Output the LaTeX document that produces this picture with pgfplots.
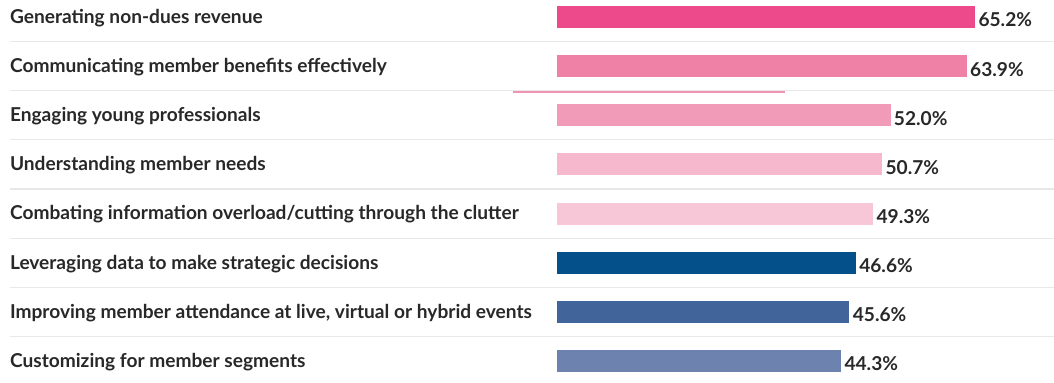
\documentclass[border=0pt]{standalone}
\usepackage{pgfplots}
\pgfplotsset{compat=1.18}
\usepackage{fontspec}
\setmainfont{Lato}
\definecolor{c1}{RGB}{236,74,139}
\definecolor{c2}{RGB}{239,128,166}
\definecolor{c3}{RGB}{242,155,184}
\definecolor{c4}{RGB}{245,184,205}
\definecolor{c5}{RGB}{247,198,215}
\definecolor{c6}{RGB}{3,80,138}
\definecolor{c7}{RGB}{65,100,154}
\definecolor{c8}{RGB}{110,130,175}
\definecolor{txt}{RGB}{40,40,40}
\definecolor{sep}{RGB}{232,232,232}
\begin{document}
\begin{tikzpicture}
\begin{axis}[
  scale only axis, width=527bp, height=191.5bp,
  xmin=-86.9, xmax=77.5, ymin=-0.346, ymax=7.448,
  y dir=reverse, clip=false,
  axis line style={draw=none}, tick style={draw=none},
  xtick=\empty,
  xbar, bar width=11bp,
  ytick={0,1,2,3,4,5,6,7}, major tick length=0pt,
  yticklabels={Generating non-dues revenue,Communicating member benefits effectively,Engaging young professionals,Understanding member needs,Combating information overload/cutting through the clutter,Leveraging data to make strategic decisions,{Improving member attendance at live, virtual or hybrid events},Customizing for member segments},
  yticklabel style={anchor=west, xshift=1.5bp, yshift=-0.5bp, font=\fontsize{9.6}{11}\selectfont\bfseries, text=txt},
  point meta=explicit symbolic,
  nodes near coords,
  nodes near coords style={anchor=west, yshift=-1.5bp, inner sep=1.5bp, font=\fontsize{9.6}{11}\selectfont\bfseries, text=txt},
  /pgf/number format/assume math mode=true,
]
\coordinate (bl) at (rel axis cs:0,0);
\coordinate (tr) at (rel axis cs:1,1);
\draw[sep, line width=0.6bp] (axis cs:-85.3,0.5) -- (axis cs:77.5,0.5);
\draw[sep, line width=0.6bp] (axis cs:-85.3,1.5) -- (axis cs:77.5,1.5);
\draw[sep, line width=0.6bp] (axis cs:-85.3,2.5) -- (axis cs:77.5,2.5);
\draw[sep, line width=0.6bp] (axis cs:-85.3,3.5) -- (axis cs:77.5,3.5);
\draw[sep, line width=0.6bp] (axis cs:-85.3,4.5) -- (axis cs:77.5,4.5);
\draw[sep, line width=0.6bp] (axis cs:-85.3,5.5) -- (axis cs:77.5,5.5);
\draw[sep, line width=0.6bp] (axis cs:-85.3,6.5) -- (axis cs:77.5,6.5);
\draw[c2!85, line width=1.25bp] (axis cs:-6.86,1.526) -- (axis cs:35.6,1.526);
\addplot[fill=c1, draw=none, bar shift=0pt] coordinates {(65.2,0) [65.2\%]};
\addplot[fill=c2, draw=none, bar shift=0pt] coordinates {(63.9,1) [63.9\%]};
\addplot[fill=c3, draw=none, bar shift=0pt] coordinates {(52.0,2) [52.0\%]};
\addplot[fill=c4, draw=none, bar shift=0pt] coordinates {(50.7,3) [50.7\%]};
\addplot[fill=c5, draw=none, bar shift=0pt] coordinates {(49.3,4) [49.3\%]};
\addplot[fill=c6, draw=none, bar shift=0pt] coordinates {(46.6,5) [46.6\%]};
\addplot[fill=c7, draw=none, bar shift=0pt] coordinates {(45.6,6) [45.6\%]};
\addplot[fill=c8, draw=none, bar shift=0pt] coordinates {(44.3,7) [44.3\%]};
\end{axis}
\pgfresetboundingbox
\path (bl) rectangle (tr);
\end{tikzpicture}
\end{document}
